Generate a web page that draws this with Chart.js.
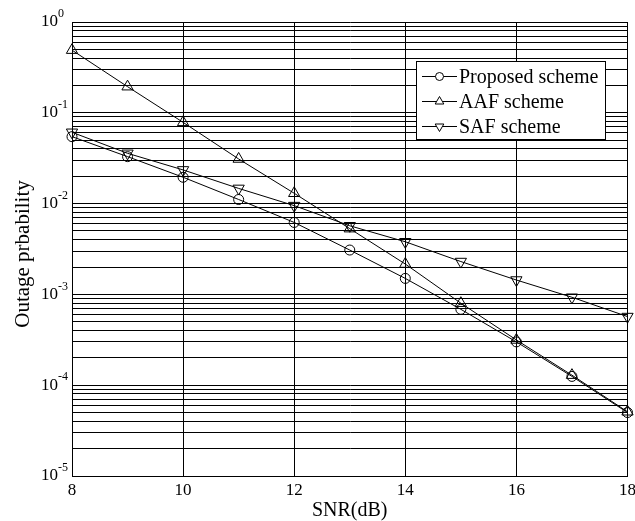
<!DOCTYPE html>
<html>
<head>
<meta charset="utf-8">
<title>Outage probability vs SNR</title>
<script src="https://cdn.jsdelivr.net/npm/chart.js@4.4.0/dist/chart.umd.min.js"></script>
<style>
  html, body { margin: 0; padding: 0; background: #fff; }
  #wrap { width: 635px; height: 521px; position: relative; }
</style>
</head>
<body>
<div id="wrap"><canvas id="outageChart"></canvas></div>
<script>
const snrDb = [8, 9, 10, 11, 12, 13, 14, 15, 16, 17, 18];
const proposedScheme = [0.0546, 0.0329, 0.0195, 0.0111, 0.0062, 0.00308, 0.0015, 0.000685, 0.0003, 0.000125, 0.00005];
const aafScheme = [0.49, 0.194, 0.0785, 0.031, 0.013, 0.0053, 0.00216, 0.0008, 0.000315, 0.000129, 0.000051];
const safScheme = [0.061, 0.0358, 0.0235, 0.0147, 0.0095, 0.0057, 0.0038, 0.0023, 0.00144, 0.00093, 0.00057];
const xTicks = [8, 10, 12, 14, 16, 18];
const yExponents = [0, -1, -2, -3, -4, -5];

const serif = '"Liberation Serif", "Times New Roman", serif';

// grid lines at 1..9 x 10^e, like a matlab log axis
const yGridValues = [];
yExponents.slice().reverse().forEach((e) => {
  for (let m = 1; m <= 9; m++) {
    if (e === 0 && m > 1) break;
    yGridValues.push(m * Math.pow(10, e));
  }
});

const legendItems = [
  { label: "Proposed scheme", style: "circle", rotation: 0, radius: 5 },
  { label: "AAF scheme", style: "triangle", rotation: 0, radius: 6 },
  { label: "SAF scheme", style: "triangle", rotation: 180, radius: 6 },
];

function toPoints(values) {
  return snrDb.map((x, i) => ({ x: x, y: values[i] }));
}

function serie(label, values, style, rotation, radius) {
  return {
    label: label,
    data: toPoints(values),
    borderColor: "#000",
    borderWidth: 1,
    backgroundColor: "rgba(0,0,0,0)",
    pointStyle: style,
    rotation: rotation,
    pointRadius: radius,
    pointBorderWidth: 1,
    pointBorderColor: "#000",
    pointBackgroundColor: "rgba(0,0,0,0)",
    tension: 0,
    clip: false,
  };
}

const labelsPlugin = {
  id: "matlabLabels",
  afterDraw(chart) {
    const ctx = chart.ctx;
    const xs = chart.scales.x;
    const ys = chart.scales.y;
    const area = chart.chartArea;
    ctx.save();
    ctx.fillStyle = "#000";

    // x tick labels
    ctx.font = "17px " + serif;
    ctx.textAlign = "center";
    ctx.textBaseline = "middle";
    xTicks.forEach((t) => {
      ctx.fillText(String(t), xs.getPixelForValue(t), area.bottom + 15);
    });

    // y tick labels 10^e
    yExponents.forEach((e) => {
      const y = ys.getPixelForValue(Math.pow(10, e));
      ctx.font = "17px " + serif;
      ctx.textAlign = "right";
      ctx.fillText("10", area.left - 14, y);
      ctx.font = "12px " + serif;
      ctx.textAlign = "left";
      ctx.fillText(String(e), area.left - 14, y - 8);
    });

    // axis titles
    ctx.font = "20px " + serif;
    ctx.textAlign = "center";
    ctx.fillText("SNR(dB)", (area.left + area.right) / 2, 511);
    ctx.save();
    ctx.font = "21px " + serif;
    ctx.translate(23, (area.top + area.bottom) / 2 + 5);
    ctx.rotate(-Math.PI / 2);
    ctx.fillText("Outage prbability", 0, 0);
    ctx.restore();

    // legend box
    const bx = 416, by = 61, bw = 189, bh = 78;
    ctx.fillStyle = "#fff";
    ctx.fillRect(bx, by, bw, bh);
    ctx.strokeStyle = "#000";
    ctx.lineWidth = 1;
    ctx.strokeRect(bx + 0.5, by + 0.5, bw, bh);
    ctx.fillStyle = "#000";
    ctx.font = "20px " + serif;
    ctx.textAlign = "left";
    legendItems.forEach((item, i) => {
      const ry = by + 15.5 + i * 25;
      ctx.beginPath();
      ctx.moveTo(422, ry);
      ctx.lineTo(457, ry);
      ctx.stroke();
      ctx.fillStyle = "#fff";
      Chart.helpers.drawPoint(ctx, {
        pointStyle: item.style,
        rotation: item.rotation,
        radius: item.radius - 1,
        borderWidth: 1,
      }, 439.5, ry);
      ctx.fillStyle = "#000";
      ctx.fillText(item.label, 459, ry + 1);
    });
    ctx.restore();
  },
};

const ctx = document.getElementById("outageChart").getContext("2d");
new Chart(ctx, {
  type: "line",
  data: {
    datasets: [
      serie("Proposed scheme", proposedScheme, "circle", 0, 5),
      serie("AAF scheme", aafScheme, "triangle", 0, 6.5),
      serie("SAF scheme", safScheme, "triangle", 180, 6.5),
    ],
  },
  options: {
    responsive: true,
    maintainAspectRatio: false,
    animation: false,
    layout: { padding: { left: 0, top: 22, right: 7, bottom: 0 } },
    plugins: {
      legend: { display: false },
      tooltip: { enabled: false },
    },
    scales: {
      x: {
        type: "linear",
        min: 8,
        max: 18,
        afterBuildTicks: (scale) => {
          scale.ticks = xTicks.map((v) => ({ value: v }));
        },
        afterFit: (scale) => {
          scale.height = 45;
        },
        ticks: { display: false },
        grid: { color: "#000", lineWidth: 1, drawTicks: false },
        border: { color: "#000", width: 1 },
      },
      y: {
        type: "logarithmic",
        min: 1e-5,
        max: 1,
        afterBuildTicks: (scale) => {
          scale.ticks = yGridValues.map((v) => ({ value: v }));
        },
        afterFit: (scale) => {
          scale.width = 72;
        },
        ticks: { display: false },
        grid: { color: "#000", lineWidth: 1, drawTicks: false },
        border: { color: "#000", width: 1 },
      },
    },
  },
  plugins: [labelsPlugin],
});
</script>
</body>
</html>
